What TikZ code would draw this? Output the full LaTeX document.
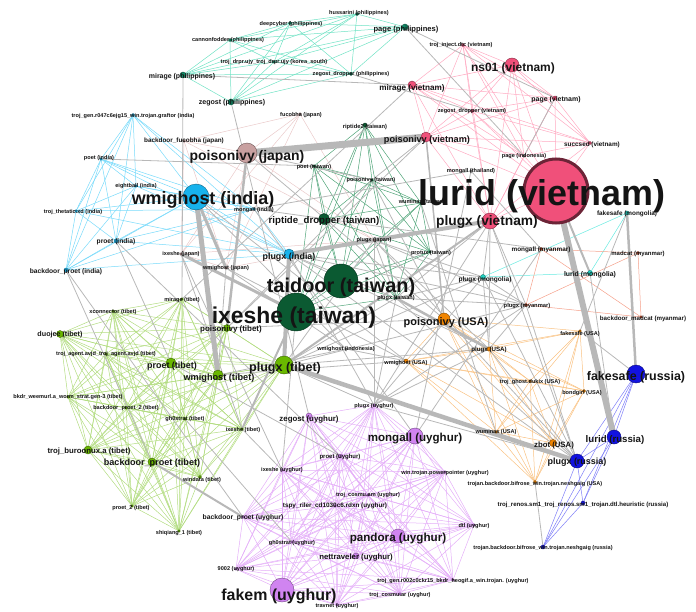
\documentclass[tikz,border=0pt]{standalone}
\usepackage{fontspec}
\setmainfont{Liberation Sans}
\pgfdeclarelayer{edges}
\pgfdeclarelayer{labels}
\pgfsetlayers{edges,main,labels}

% node fills per country
\definecolor{phN}{HTML}{0E8A66}
\definecolor{vnN}{HTML}{F0507A}
\definecolor{jpN}{HTML}{C8A0A0}
\definecolor{twN}{HTML}{0B5A32}
\definecolor{inN}{HTML}{17B2EC}
\definecolor{mnN}{HTML}{22D4C4}
\definecolor{mmN}{HTML}{E85A30}
\definecolor{tbN}{HTML}{6AB800}
\definecolor{usN}{HTML}{F08400}
\definecolor{ruN}{HTML}{1212E0}
\definecolor{uyN}{HTML}{D084F0}
\definecolor{grN}{HTML}{A0A0A0}
% edge colours per country
\definecolor{phE}{HTML}{70E2C4}
\definecolor{vnE}{HTML}{FFAAC2}
\definecolor{jpE}{HTML}{EACACA}
\definecolor{twE}{HTML}{4FA478}
\definecolor{inE}{HTML}{78DAFA}
\definecolor{mnE}{HTML}{66EAE0}
\definecolor{mmE}{HTML}{F5A08A}
\definecolor{tbE}{HTML}{B2DC80}
\definecolor{usE}{HTML}{F9C282}
\definecolor{ruE}{HTML}{7E7EF8}
\definecolor{uyE}{HTML}{E4AEF8}
\definecolor{famE}{HTML}{B8B8B8}
\definecolor{labC}{HTML}{141414}

\tikzset{
  dotn/.style={circle, inner sep=0pt, line width=0.4bp},
  labn/.style={inner sep=0pt, text=labC, font=\bfseries},
  cedge/.style={line width=0.5bp, draw=#1},
  fedge/.style={line width=0.8bp, draw=famE},
}

% dot: name, x, y, diameter, colour
\newcommand\dotat[5]{\node[dotn, fill=#5, draw=#5!55!black, minimum size=#4bp] (#1) at (#2,#3) {};}
% label: name, x, y, size, text
\newcommand\labat[5]{\node[labn] (#1-t) at (#2,#3) {\fontsize{#4}{#4}\selectfont #5};}
% every pair of the listed nodes
\newcommand\mkclique[2]{%
  \foreach \u [count=\i] in {#2}{%
    \foreach \v [count=\j] in {#2}{%
      \ifnum\j>\i\relax \draw[#1] (\u.center) -- (\v.center);\fi
    }%
  }%
}

\begin{document}
\begin{tikzpicture}[x=1bp,y=-1bp]
\useasboundingbox (0,0) rectangle (696,612);

% ---------- dots ----------
% philippines / korea
\dotat{phhus}{357}{14}{3}{phN}
\dotat{phdeep}{290}{23}{3}{phN}
\dotat{phcan}{230}{40}{3}{phN}
\dotat{phpage}{405}{27}{6}{phN}
\dotat{krdrpr}{274}{62}{2.5}{phN}
\dotat{phzdrop}{351}{74}{3}{phN}
\dotat{phmir}{183}{75}{6}{phN}
\dotat{phzeg}{231}{102}{6}{phN}
% vietnam, indonesia, thailand
\dotat{vninj}{463}{45}{3}{vnN}
\dotat{vnns}{512}{65}{14}{vnN}
\dotat{vnmir}{412}{85}{8}{vnN}
\dotat{vnpage}{555}{98}{4}{vnN}
\dotat{vnzdrop}{472}{111}{3}{vnN}
\dotat{vnsucc}{590}{143}{3}{vnN}
\dotat{vnpoi}{426}{137}{10}{vnN}
\dotat{idpage}{524}{156}{2.5}{grN}
\dotat{thmon}{471}{171}{2.5}{grN}
\node[dotn, fill=vnN, draw=vnN!45!black, line width=3bp, minimum size=64bp] (vnlur) at (556,191) {};
\dotat{vnplg}{490}{221}{16}{vnN}
% japan
\dotat{jpfuc}{300}{114}{2.5}{jpN}
\dotat{jpbfuc}{184}{141}{2.5}{jpN}
\dotat{jppoi}{247}{153}{20}{jpN}
\dotat{jpixe}{181}{254}{2.5}{jpN}
\dotat{jpwmi}{226}{268}{2.5}{jpN}
\dotat{jpplg}{374}{240}{2.5}{jpN}
% taiwan
\dotat{twrip}{365}{125}{4}{twN}
\dotat{twpoet}{314}{166}{2.5}{twN}
\dotat{twpoi}{372}{180}{2.5}{twN}
\dotat{twwum}{421}{203}{2.5}{twN}
\dotat{twripd}{324}{219}{11}{twN}
\dotat{twprot}{430}{252}{2.5}{twN}
\dotat{twtai}{341}{281}{34}{twN}
\dotat{twplg}{396}{298}{2.5}{twN}
\dotat{twixe}{296}{312}{38}{twN}
% india
\dotat{introj}{133}{115}{3}{inN}
\dotat{inpoet}{101}{159}{2.5}{inN}
\dotat{ineight}{136}{186}{2.5}{inN}
\dotat{inwmi}{196}{197}{26}{inN}
\dotat{inthet}{76}{211}{2.5}{inN}
\dotat{inmon}{254}{209}{2.5}{inN}
\dotat{inproet}{116}{241}{4}{inN}
\dotat{inplg}{289}{254}{10}{inN}
\dotat{inbpro}{66}{270}{4}{inN}
% mongolia, myanmar
\dotat{mnfake}{627}{213}{4}{mnN}
\dotat{mnlur}{590}{273}{5}{mnN}
\dotat{mnplg}{483}{277}{5}{mnN}
\dotat{mmmon}{541}{249}{3}{mmN}
\dotat{mmmad}{638}{253}{3}{mmN}
\dotat{mmplg}{526}{305}{3}{mmN}
\dotat{mmbmad}{641}{317}{2.5}{mmN}
% tibet
\dotat{tbmir}{182}{299}{2.5}{tbN}
\dotat{tbxcon}{113}{311}{2.5}{tbN}
\dotat{tbduo}{60}{334}{7}{tbN}
\dotat{tbpoi}{227}{328}{7}{tbN}
\dotat{tbagent}{106}{354}{2.5}{tbN}
\dotat{tbproet}{171}{363}{10}{tbN}
\dotat{tbwmi}{218}{375}{10}{tbN}
\dotat{tbplg}{284}{365}{18}{tbN}
\dotat{tbbkdr}{68}{397}{2.5}{tbN}
\dotat{tbbp}{126}{408}{2.5}{tbN}
\dotat{tbgh}{185}{419}{2.5}{tbN}
\dotat{tbixe}{242}{429}{2.5}{tbN}
\dotat{tbburo}{88}{450}{8}{tbN}
\dotat{tbbpro}{152}{462}{8}{tbN}
\dotat{tbwind}{200}{477}{3}{tbN}
\dotat{tbpro}{132}{506}{2.5}{tbN}
\dotat{tbshi}{179}{531}{2.5}{tbN}
\dotat{idwmi}{346}{349}{2.5}{grN}
% usa
\dotat{uswmi}{406}{361}{4}{usN}
\dotat{uspoi}{444}{319}{12}{usN}
\dotat{usfake}{580}{331}{2.5}{usN}
\dotat{usplg}{489}{349}{4}{usN}
\dotat{usghost}{530}{381}{2.5}{usN}
\dotat{usbond}{584}{391}{3}{usN}
\dotat{uswum}{496}{432}{2.5}{usN}
\dotat{uszbot}{553}{443}{7}{usN}
\dotat{usbif}{535}{482}{3}{usN}
% russia
\dotat{rufake}{636}{374}{18}{ruN}
\dotat{rulur}{614}{437}{14}{ruN}
\dotat{ruplg}{577}{461}{14}{ruN}
\dotat{rurenos}{583}{503}{4}{ruN}
\dotat{rubif}{543}{547}{4}{ruN}
% uyghur
\dotat{uyplg}{374}{405}{2.5}{uyN}
\dotat{uyzeg}{309}{416}{6}{uyN}
\dotat{uymon}{415}{436}{16}{uyN}
\dotat{uyproet}{340}{456}{4}{uyN}
\dotat{uywin}{445}{472}{2.5}{uyN}
\dotat{uyixe}{282}{470}{2.5}{uyN}
\dotat{uycosam}{368}{495}{2.5}{uyN}
\dotat{uytspy}{335}{506}{2.5}{uyN}
\dotat{uybpro}{243}{517}{2.5}{uyN}
\dotat{uydtl}{474}{525}{2.5}{uyN}
\dotat{uypan}{398}{536}{14}{uyN}
\dotat{uygh}{292}{542}{2.5}{uyN}
\dotat{uynet}{356}{556}{6}{uyN}
\dotat{uynine}{236}{569}{2.5}{uyN}
\dotat{uytroj}{453}{580}{2.5}{uyN}
\dotat{uycosar}{400}{594}{2.5}{uyN}
\dotat{uyfakem}{282}{590}{24}{uyN}
\dotat{uytrav}{337}{605}{2.5}{uyN}

% ---------- connectors ----------
\begin{pgfonlayer}{edges}
% links inside each country
\mkclique{cedge=phE}{phhus,phdeep,phcan,phpage,krdrpr,phzdrop,phmir,phzeg}
\mkclique{cedge=vnE}{vninj,vnns,vnmir,vnpage,vnzdrop,vnsucc,vnpoi,idpage,vnlur,vnplg}
\mkclique{cedge=jpE}{jpfuc,jpbfuc,jppoi,jpixe,jpwmi,jpplg}
\mkclique{cedge=twE}{twrip,twpoet,twpoi,twwum,twripd,twprot,twtai,twplg,twixe}
\mkclique{cedge=inE}{introj,inpoet,ineight,inwmi,inthet,inmon,inproet,inplg,inbpro}
\mkclique{cedge=mnE}{mnfake,mnlur,mnplg}
\mkclique{cedge=mmE}{mmmon,mmmad,mmplg,mmbmad}
\mkclique{cedge=tbE}{tbmir,tbxcon,tbduo,tbpoi,tbagent,tbproet,tbwmi,tbplg,tbbkdr,tbbp,tbgh,tbixe,tbburo,tbbpro,tbwind,tbpro,tbshi}
\mkclique{cedge=usE}{uswmi,uspoi,usfake,usplg,usghost,usbond,uswum,uszbot,usbif}
\mkclique{cedge=ruE}{rufake,rulur,ruplg,rurenos,rubif}
\mkclique{cedge=uyE}{uyplg,uyzeg,uymon,uyproet,uywin,uyixe,uycosam,uytspy,uybpro,uydtl,uypan,uygh,uynet,uynine,uytroj,uycosar,uyfakem,uytrav}
% links between countries sharing a family
\mkclique{fedge}{vnplg,jpplg,inplg,twplg,mnplg,mmplg,usplg,tbplg,uyplg,ruplg}
\mkclique{fedge}{vnpoi,jppoi,twpoi,tbpoi,uspoi}
\mkclique{fedge}{vnlur,mnlur,rulur}
\mkclique{fedge}{inwmi,jpwmi,tbwmi,idwmi,uswmi}
\mkclique{fedge}{phmir,vnmir,tbmir}
\mkclique{fedge}{phpage,vnpage,idpage}
\mkclique{fedge}{phzeg,uyzeg}
\mkclique{fedge}{phzdrop,vnzdrop}
\mkclique{fedge}{twixe,jpixe,tbixe,uyixe}
\mkclique{fedge}{inmon,thmon,mmmon,uymon}
\mkclique{fedge}{inproet,tbproet,uyproet}
\mkclique{fedge}{inbpro,tbbpro,uybpro}
\mkclique{fedge}{mnfake,usfake,rufake}
\mkclique{fedge}{inpoet,twpoet}
\mkclique{fedge}{twwum,uswum}
\mkclique{fedge}{tbgh,uygh}
\mkclique{fedge}{usbif,rubif}
% heavier links
\draw[fedge, line width=7bp] (jppoi.center) -- (vnpoi.center);
\draw[fedge, line width=6bp] (vnlur.center) -- (rulur.center);
\draw[fedge, line width=5bp] (inwmi.center) -- (tbwmi.center);
\draw[fedge, line width=4.5bp] (tbplg.center) -- (ruplg.center);
\draw[fedge, line width=4bp] (vnplg.center) -- (inplg.center);
\draw[fedge, line width=4bp] (inplg.center) -- (tbplg.center);
\draw[fedge, line width=3bp] (jpixe.center) -- (twixe.center);
\draw[fedge, line width=3bp] (inwmi.center) -- (jpwmi.center);
\draw[fedge, line width=2.5bp] (jppoi.center) -- (tbpoi.center);
\draw[fedge, line width=2.5bp] (mnfake.center) -- (rufake.center);
\draw[fedge, line width=2.5bp] (twplg.center) -- (usplg.center);
\draw[fedge, line width=2bp] (vnlur.center) -- (mnlur.center);
\draw[fedge, line width=2bp] (twixe.center) -- (tbixe.center);
\draw[fedge, line width=2bp] (vnplg.center) -- (tbplg.center);
\draw[fedge, line width=2bp] (tbbpro.center) -- (uybpro.center);
\draw[fedge, line width=1.5bp] (vnpoi.center) -- (uspoi.center);
\end{pgfonlayer}

% ---------- labels ----------
\begin{pgfonlayer}{labels}
\labat{phhus}{359}{13}{5.6}{hussarini (philippines)}
\labat{phdeep}{291}{24}{5.6}{deepcyber (philippines)}
\labat{phcan}{228}{40}{5.6}{cannonfodder (philippines)}
\labat{phpage}{406}{30}{7.6}{page (philippines)}
\labat{krdrpr}{274}{62}{5.6}{troj\_drpr.ujy\_troj\_drpr.ujy (korea\_south)}
\labat{phzdrop}{351}{74}{5.6}{zegost\_dropper (philippines)}
\labat{phmir}{182}{77}{7}{mirage (philippines)}
\labat{phzeg}{232}{103}{7.1}{zegost (philippines)}
\labat{vninj}{461}{45}{5.6}{troj\_inject.dtc (vietnam)}
\labat{vnns}{513}{68}{12}{ns01 (vietnam)}
\labat{vnmir}{412}{88}{8.2}{mirage (vietnam)}
\labat{vnpage}{556}{100}{7}{page (vietnam)}
\labat{vnzdrop}{472}{111}{5.6}{zegost\_dropper (vietnam)}
\labat{vnsucc}{592}{145}{6.4}{succsed (vietnam)}
\labat{vnpoi}{427}{140}{9.2}{poisonivy (vietnam)}
\labat{idpage}{524}{156}{5.6}{page (indonesia)}
\labat{thmon}{471}{171}{5.6}{mongall (thailand)}
\labat{vnlur}{542}{196}{36}{lurid (vietnam)}
\labat{vnplg}{487}{222}{13.8}{plugx (vietnam)}
\labat{jpfuc}{301}{115}{5.6}{fucobha (japan)}
\labat{jpbfuc}{184}{141}{6.4}{backdoor\_fucobha (japan)}
\labat{jppoi}{247}{157}{14}{poisonivy (japan)}
\labat{jpixe}{181}{254}{5.6}{ixeshe (japan)}
\labat{jpwmi}{226}{268}{5.6}{wmighost (japan)}
\labat{jpplg}{374}{240}{5.6}{plugx (japan)}
\labat{twrip}{365}{127}{5.8}{riptide2 (taiwan)}
\labat{twpoet}{314}{167}{5.6}{poet (taiwan)}
\labat{twpoi}{371}{180}{5.6}{poisonivy (taiwan)}
\labat{twwum}{422}{202}{5.6}{wuminas (taiwan)}
\labat{twripd}{324}{221}{9.7}{riptide\_dropper (taiwan)}
\labat{twprot}{431}{253}{5.6}{protux (taiwan)}
\labat{twtai}{341}{287}{20}{taidoor (taiwan)}
\labat{twplg}{396}{298}{5.6}{plugx (taiwan)}
\labat{twixe}{294}{318}{23}{ixeshe (taiwan)}
\labat{introj}{133}{116}{5.6}{troj\_gen.r047c6ejg15\_win.trojan.graftor (india)}
\labat{inpoet}{99}{158}{5.6}{poet (india)}
\labat{ineight}{136}{186}{5.6}{eightball (india)}
\labat{inwmi}{203}{200}{18}{wmighost (india)}
\labat{inthet}{73}{212}{5.6}{troj\_thetatic.xd (india)}
\labat{inmon}{254}{210}{5.6}{mongall (india)}
\labat{inproet}{116}{242}{6.7}{proet (india)}
\labat{inplg}{289}{257}{8.9}{plugx (india)}
\labat{inbpro}{66}{272}{6.7}{backdoor\_proet (india)}
\labat{mnfake}{627}{214}{6.4}{fakesafe (mongolia)}
\labat{mnlur}{590}{275}{6.9}{lurid (mongolia)}
\labat{mnplg}{485}{280}{6.6}{plugx (mongolia)}
\labat{mmmon}{541}{250}{6.4}{mongall (myanmar)}
\labat{mmmad}{638}{254}{6}{madcat (myanmar)}
\labat{mmplg}{527}{306}{5.8}{plugx (myanmar)}
\labat{mmbmad}{643}{319}{6.2}{backdoor\_madcat (myanmar)}
\labat{tbmir}{182}{300}{5.6}{mirage (tibet)}
\labat{tbxcon}{113}{312}{5.6}{xconnector (tibet)}
\labat{tbduo}{60}{335}{7.2}{duojee (tibet)}
\labat{tbpoi}{231}{329}{8}{poisonivy (tibet)}
\labat{tbagent}{106}{354}{5.6}{troj\_agent.avjd\_troj\_agent.avjd (tibet)}
\labat{tbproet}{172}{366}{9}{proet (tibet)}
\labat{tbwmi}{219}{378}{9.2}{wmighost (tibet)}
\labat{tbplg}{285}{368}{12.6}{plugx (tibet)}
\labat{tbbkdr}{68}{397}{5.6}{bkdr\_weemurl.a\_worm\_strat.gen-3 (tibet)}
\labat{tbbp}{126}{408}{5.6}{backdoor\_proet\_2 (tibet)}
\labat{tbgh}{185}{419}{5.6}{gh0strat (tibet)}
\labat{tbixe}{243}{430}{5.6}{ixeshe (tibet)}
\labat{tbburo}{89}{451}{7.8}{troj\_buroonux.a (tibet)}
\labat{tbbpro}{152}{463}{9.1}{backdoor\_proet (tibet)}
\labat{tbwind}{202}{480}{5.6}{windata (tibet)}
\labat{tbpro}{131}{508}{5.6}{proet\_2 (tibet)}
\labat{tbshi}{179}{533}{5.6}{shiqiang\_1 (tibet)}
\labat{idwmi}{346}{349}{5.6}{wmighost (indonesia)}
\labat{uswmi}{406}{363}{5.6}{wmighost (USA)}
\labat{uspoi}{446}{323}{11}{poisonivy (USA)}
\labat{usfake}{580}{334}{5.6}{fakesafe (USA)}
\labat{usplg}{489}{350}{6.2}{plugx (USA)}
\labat{usghost}{530}{382}{5.6}{troj\_ghost.dukix (USA)}
\labat{usbond}{582}{393}{5.6}{bondgirl (USA)}
\labat{uswum}{496}{432}{5.6}{wuminas (USA)}
\labat{uszbot}{554}{445}{7.8}{zbot (USA)}
\labat{usbif}{535}{484}{5.6}{trojan.backdoor.bifrose\_win.trojan.neshgaig (USA)}
\labat{rufake}{636}{377}{12.5}{fakesafe (russia)}
\labat{rulur}{615}{440}{9.7}{lurid (russia)}
\labat{ruplg}{577}{462}{9}{plugx (russia)}
\labat{rurenos}{583}{505}{6.1}{troj\_renos.sm1\_troj\_renos.sm1\_trojan.dtl.heuristic (russia)}
\labat{rubif}{543}{548}{5.6}{trojan.backdoor.bifrose\_win.trojan.neshgaig (russia)}
\labat{uyplg}{374}{406}{5.6}{plugx (uyghur)}
\labat{uyzeg}{309}{419}{7.9}{zegost (uyghur)}
\labat{uymon}{415}{439}{11.6}{mongall (uyghur)}
\labat{uyproet}{340}{457}{6}{proet (uyghur)}
\labat{uywin}{445}{473}{5.6}{win.trojan.powerpointer (uyghur)}
\labat{uyixe}{282}{470}{5.6}{ixeshe (uyghur)}
\labat{uycosam}{368}{495}{5.6}{troj\_cosmu.am (uyghur)}
\labat{uytspy}{335}{506}{6.4}{tspy\_riler\_cd1030c6.rdxn (uyghur)}
\labat{uybpro}{243}{518}{6.8}{backdoor\_proet (uyghur)}
\labat{uydtl}{474}{526}{5.6}{dtl (uyghur)}
\labat{uypan}{398}{539}{11.7}{pandora (uyghur)}
\labat{uygh}{292}{543}{5.6}{gh0strat (uyghur)}
\labat{uynet}{356}{558}{7.8}{nettraveler (uyghur)}
\labat{uynine}{236}{569}{5.6}{9002 (uyghur)}
\labat{uytroj}{453}{581}{5.6}{troj\_gen.r002c0ckr15\_bkdr\_heogif.a\_win.trojan. (uyghur)}
\labat{uycosar}{400}{595}{5.6}{troj\_cosmu.ar (uyghur)}
\labat{uyfakem}{279}{596}{16}{fakem (uyghur)}
\labat{uytrav}{337}{606}{5.6}{travnet (uyghur)}
\end{pgfonlayer}
\end{tikzpicture}
\end{document}
